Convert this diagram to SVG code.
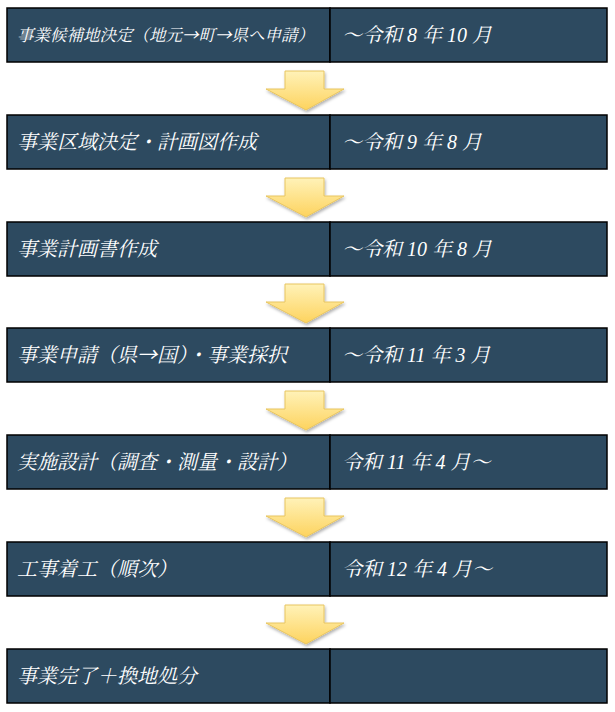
<svg xmlns="http://www.w3.org/2000/svg" width="615" height="712" viewBox="0 0 615 712">
<style>
.c{fill:#2d4a60;stroke:#000;stroke-width:1.5}
.t{fill:#fff;font-family:"Liberation Serif","Noto Serif CJK JP","Noto Sans CJK JP",serif;font-style:italic;font-size:20px}
.s{font-size:16.5px}
.j{font-family:"Noto Sans CJK JP",sans-serif}
.a{fill:url(#g);stroke:#e8c560;stroke-width:1;filter:url(#sh)}
</style>
<defs>
<linearGradient id="g" x1="0" y1="0" x2="0" y2="1"><stop offset="0" stop-color="#fff2b8"/><stop offset="1" stop-color="#fdd35e"/></linearGradient>
<filter id="sh" x="-20%" y="-20%" width="140%" height="150%"><feDropShadow dx="1" dy="2" stdDeviation="1.5" flood-color="#000" flood-opacity="0.3"/></filter>
<path id="arr" d="M285,0 H324 V18 H344 L306,39 L266,18 H285 Z"/>
</defs>
<g id="connectors">
<use href="#arr" class="a" y="71"/>
<use href="#arr" class="a" y="178"/>
<use href="#arr" class="a" y="284"/>
<use href="#arr" class="a" y="391"/>
<use href="#arr" class="a" y="498"/>
<use href="#arr" class="a" y="605"/>
</g>
<g id="n1"><rect class="c" x="7" y="8" width="323" height="54"/><rect class="c" x="330" y="8" width="277" height="54"/><text class="t s" x="17" y="41">事業候補地決定（地元<tspan class="j">→</tspan>町<tspan class="j">→</tspan>県へ申請）</text><text class="t" x="342" y="42">～令和 8 年 10 月</text></g>
<g id="n2"><rect class="c" x="7" y="115" width="323" height="54"/><rect class="c" x="330" y="115" width="277" height="54"/><text class="t" x="17" y="149">事業区域決定・計画図作成</text><text class="t" x="342" y="149">～令和 9 年 8 月</text></g>
<g id="n3"><rect class="c" x="7" y="222" width="323" height="54"/><rect class="c" x="330" y="222" width="277" height="54"/><text class="t" x="17" y="256">事業計画書作成</text><text class="t" x="342" y="256">～令和 10 年 8 月</text></g>
<g id="n4"><rect class="c" x="7" y="328" width="323" height="54"/><rect class="c" x="330" y="328" width="277" height="54"/><text class="t" x="17" y="362">事業申請（県<tspan class="j">→</tspan>国）・事業採択</text><text class="t" x="342" y="362">～令和 11 年 3 月</text></g>
<g id="n5"><rect class="c" x="7" y="435" width="323" height="54"/><rect class="c" x="330" y="435" width="277" height="54"/><text class="t" x="17" y="469">実施設計（調査・測量・設計）</text><text class="t" x="342" y="469">令和 11 年 4 月～</text></g>
<g id="n6"><rect class="c" x="7" y="542" width="323" height="54"/><rect class="c" x="330" y="542" width="277" height="54"/><text class="t" x="17" y="576">工事着工（順次）</text><text class="t" x="342" y="576">令和 12 年 4 月～</text></g>
<g id="n7"><rect class="c" x="7" y="649" width="323" height="54"/><rect class="c" x="330" y="649" width="277" height="54"/><text class="t" x="17" y="683">事業完了＋換地処分</text></g>
</svg>
